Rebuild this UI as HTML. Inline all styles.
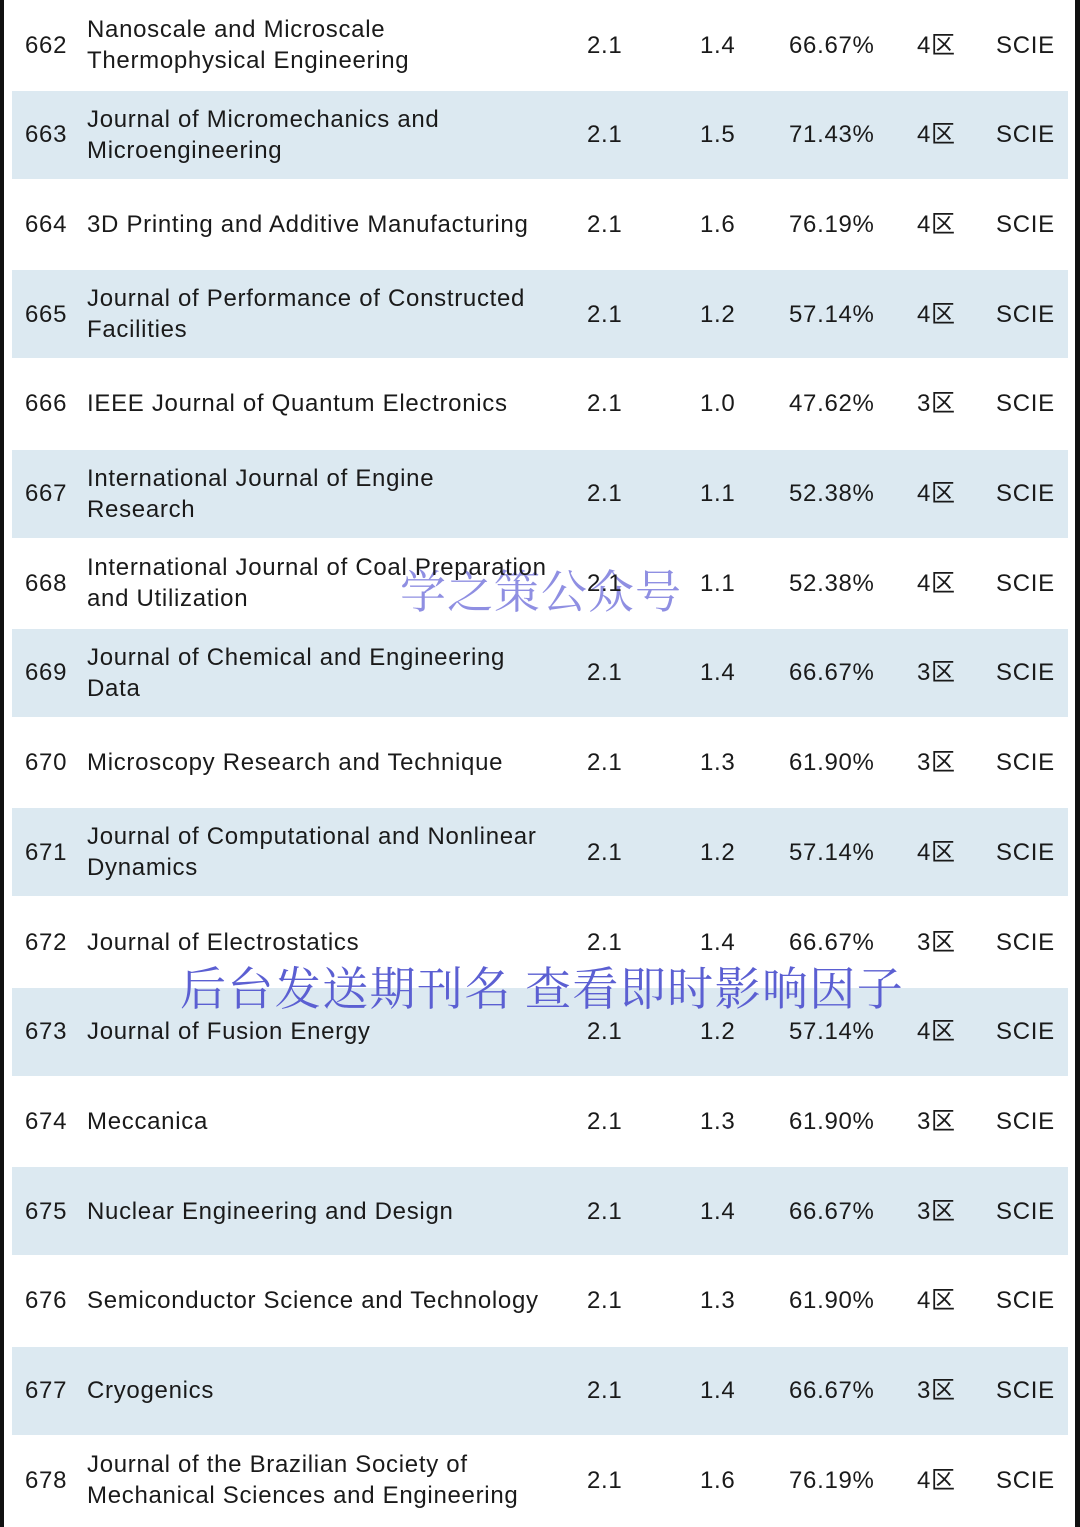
<!DOCTYPE html>
<html><head><meta charset="utf-8"><style>
body{margin:0;width:1080px;height:1527px;background:#fff;position:relative;overflow:hidden;font-family:"Liberation Sans","Noto Sans CJK SC",sans-serif;color:#1a1a1a}
.bl{position:absolute;left:0;top:0;width:4px;height:1527px;background:#111}
.br{position:absolute;right:0;top:0;width:5px;height:1527px;background:#111}
.row{position:absolute;left:12px;width:1056px;height:88px}
.band{background:#dce9f1}
.c{position:absolute;top:0;height:88px;display:flex;align-items:center;font-size:24px;line-height:31px;letter-spacing:0.7px;white-space:nowrap}
.wm{position:absolute;font-family:"Noto Serif CJK SC",serif;font-size:46px;white-space:nowrap}
</style></head><body>
<div class="bl"></div>
<div class="br"></div>
<div class="wm" style="left:400px;top:556px;color:#8f8fe2;z-index:0;letter-spacing:1px">学之策公众号</div>
<div id="t" style="position:absolute;left:0;top:0;width:1080px;height:1527px;z-index:1"></div>
<div class="wm" style="left:180px;top:953px;color:#5b5fd2;z-index:2;letter-spacing:1.4px">后台发送期刊名 查看即时影响因子</div>
<script>
const ids=[662,663,664,665,666,667,668,669,670,671,672,673,674,675,676,677,678];
const names=["Nanoscale and Microscale<br>Thermophysical Engineering","Journal of Micromechanics and<br>Microengineering","3D Printing and Additive Manufacturing","Journal of Performance of Constructed<br>Facilities","IEEE Journal of Quantum Electronics","International Journal of Engine<br>Research","International Journal of Coal Preparation<br>and Utilization","Journal of Chemical and Engineering<br>Data","Microscopy Research and Technique","Journal of Computational and Nonlinear<br>Dynamics","Journal of Electrostatics","Journal of Fusion Energy","Meccanica","Nuclear Engineering and Design","Semiconductor Science and Technology","Cryogenics","Journal of the Brazilian Society of<br>Mechanical Sciences and Engineering"];
const ifs=["2.1","2.1","2.1","2.1","2.1","2.1","2.1","2.1","2.1","2.1","2.1","2.1","2.1","2.1","2.1","2.1","2.1"];
const v2=["1.4","1.5","1.6","1.2","1.0","1.1","1.1","1.4","1.3","1.2","1.4","1.2","1.3","1.4","1.3","1.4","1.6"];
const pct=["66.67%","71.43%","76.19%","57.14%","47.62%","52.38%","52.38%","66.67%","61.90%","57.14%","66.67%","57.14%","61.90%","66.67%","61.90%","66.67%","76.19%"];
const zone=["4区","4区","4区","4区","3区","4区","4区","3区","3区","4区","3区","4区","3区","3区","4区","3区","4区"];
const t=document.getElementById('t');
const cols=[[13,'id'],[75,'name'],[575,'if'],[688,'v2'],[777,'pct'],[905,'zone'],[984,'idx']];
ids.forEach((id,i)=>{
  const r=document.createElement('div');
  
  
  r.className='row'+(i%2?' band':'');
  r.style.top=(i*89.7+1)+'px';
  const vals=[id,names[i],ifs[i],v2[i],pct[i],zone[i],'SCIE'];
  cols.forEach((c,j)=>{
    const d=document.createElement('div');
    
    
    d.className='c';d.style.left=c[0]+'px';
    d.innerHTML='<span>'+vals[j]+'</span>';
    r.appendChild(d);
  });
  t.appendChild(r);
});
</script>
</body></html>
